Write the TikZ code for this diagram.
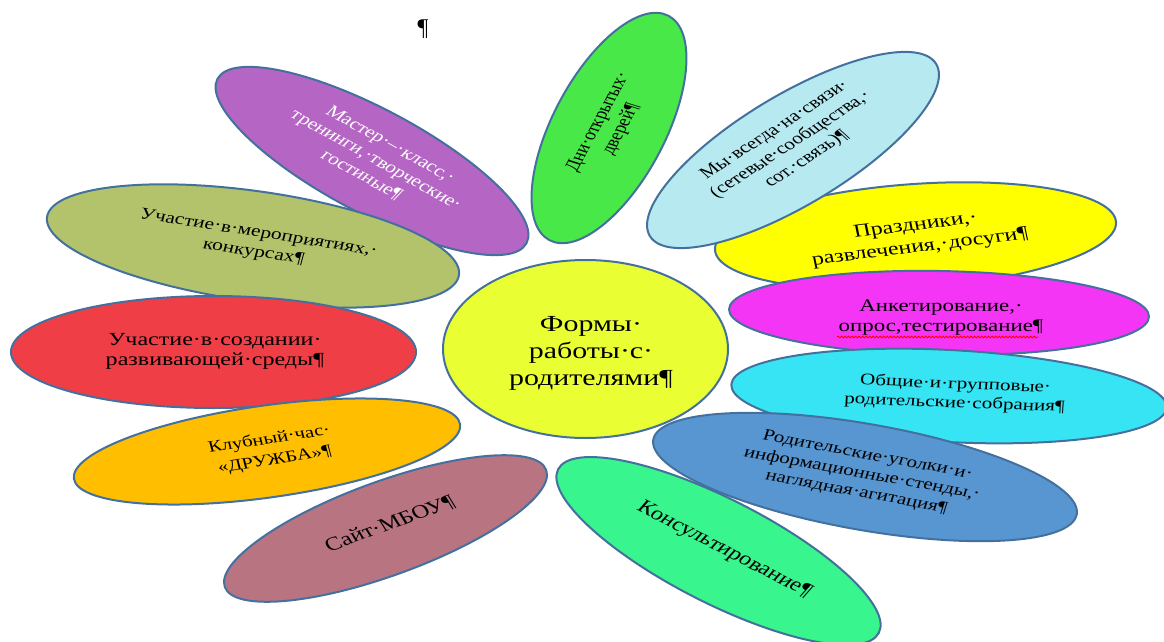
\documentclass[tikz,border=0pt]{standalone}
\usepackage{fontspec}
\setmainfont{Liberation Serif}
\usetikzlibrary{shapes.geometric,decorations.pathmorphing}
\definecolor{outl}{RGB}{68,112,158}
\definecolor{cPurple}{RGB}{181,101,196}
\definecolor{cOlive}{RGB}{178,195,107}
\definecolor{cRed}{RGB}{240,62,70}
\definecolor{cOrange}{RGB}{255,190,0}
\definecolor{cMauve}{RGB}{185,116,130}
\definecolor{cGreen}{RGB}{72,232,72}
\definecolor{cLightBlue}{RGB}{183,233,240}
\definecolor{cYellow}{RGB}{255,255,0}
\definecolor{cMagenta}{RGB}{245,53,245}
\definecolor{cCyan}{RGB}{54,228,244}
\definecolor{cBlue}{RGB}{88,150,210}
\definecolor{cLightGreen}{RGB}{56,245,141}
\definecolor{cCenter}{RGB}{234,255,51}
\newcommand\setfs[2]{\fontsize{#1}{#2}\selectfont}
\tikzset{
  petal/.style={ellipse, draw=outl, line width=2pt, inner sep=0pt, outer sep=0pt},
  txt/.style={align=center, inner sep=0pt, transform shape, text=black},
}
\begin{document}
\begin{tikzpicture}[x=1pt,y=-1pt]
\useasboundingbox (0,0) rectangle (1164,642);
\clip (0,0) rectangle (1164,642);
% petals, left group
\node[petal, fill=cPurple, minimum width=350pt, minimum height=104pt, rotate=-28] (pPurple) at (372,161) {};
\node[petal, fill=cOlive, minimum width=416pt, minimum height=110pt, rotate=-8] (pOlive) at (253,246) {};
\node[petal, fill=cRed, minimum width=405pt, minimum height=112pt] (pRed) at (213.5,352) {};
\node[petal, fill=cOrange, minimum width=390pt, minimum height=92pt, rotate=8] (pOrange) at (267,451.5) {};
\node[petal, fill=cMauve, minimum width=342pt, minimum height=94pt, rotate=20] (pMauve) at (385.5,528.5) {};
% petals, right group
\node[petal, fill=cGreen, minimum width=254pt, minimum height=112pt, rotate=62] (pGreen) at (609,128) {};
\node[petal, fill=cYellow, minimum width=402pt, minimum height=104pt, rotate=4] (pYellow) at (915.5,236) {};
\node[petal, fill=cLightBlue, minimum width=334pt, minimum height=110pt, rotate=31] (pLightBlue) at (793,150) {};
\node[petal, fill=cMagenta, minimum width=420pt, minimum height=84pt, rotate=-1] (pMagenta) at (939,313) {};
\node[petal, fill=cCyan, minimum width=436pt, minimum height=92pt, rotate=-3] (pCyan) at (949,396) {};
\node[petal, fill=cBlue, minimum width=430pt, minimum height=106pt, rotate=-10] (pBlue) at (865,477) {};
\node[petal, fill=cLightGreen, minimum width=360pt, minimum height=104pt, rotate=-27] (pLightGreen) at (718.5,551) {};
% centre
\node[petal, fill=cCenter, minimum width=285pt, minimum height=178pt] (pCenter) at (585.5,349) {};

% texts
\begin{scope}[shift={(376,160)},xscale=1.3,rotate=-36]
\node[txt,text=white,font=\setfs{16.5}{19}] (tPurple) {Мастер·–·класс,·\\тренинги,·творческие·\\гостиные¶};
\end{scope}
\begin{scope}[shift={(256,243)},xscale=1.3,rotate=-11.6]
\node[txt,font=\setfs{16.5}{19.5}] (tOlive) {Участие·в·мероприятиях,·\\конкурсах¶};
\end{scope}
\begin{scope}[shift={(215,351.5)},xscale=1.3]
\node[txt,font=\setfs{18.5}{20.6}] (tRed) {Участие·в·создании·\\развивающей·среды¶};
\end{scope}
\begin{scope}[shift={(272,450)},xscale=1.3,rotate=11.3]
\node[txt,font=\setfs{16}{21}] (tOrange) {Клубный·час·\\«ДРУЖБА»¶};
\end{scope}
\begin{scope}[shift={(390,524)},xscale=1.3,rotate=25.4]
\node[txt,font=\setfs{19}{22}] (tMauve) {Сайт·МБОУ¶};
\end{scope}
\begin{scope}[shift={(610,126)},xscale=1.3,rotate=67.6]
\node[txt,font=\setfs{16}{19}] (tGreen) {Дни·открытых·\\дверей¶};
\end{scope}
\begin{scope}[shift={(791,145)},xscale=1.3,rotate=40.2]
\node[txt,font=\setfs{16.3}{19}] (tLightBlue) {Мы·всегда·на·связи·\\(сетевые·сообщества,·\\сот.·связь)¶};
\end{scope}
\begin{scope}[shift={(918,237)},xscale=1.3,rotate=9.1]
\node[txt,font=\setfs{18.4}{22}] (tYellow) {Праздники,·\\развлечения,·досуги¶};
\end{scope}
\begin{scope}[shift={(941,318)},xscale=1.3]
\node[txt,font=\setfs{17.6}{20}] (tMagenta) {Анкетирование,·\\опрос,тестирование¶};
\end{scope}
\begin{scope}[shift={(955,394)},xscale=1.3,rotate=-2.8]
\node[txt,font=\setfs{16.2}{19}] (tCyan) {Общие·и·групповые·\\родительские·собрания¶};
\end{scope}
\begin{scope}[shift={(862,474)},xscale=1.3,rotate=-13.4]
\node[txt,font=\setfs{16.2}{19}] (tBlue) {Родительские·уголки·и·\\информационные·стенды,·\\наглядная·агитация¶};
\end{scope}
\begin{scope}[shift={(724,550)},xscale=1.3,rotate=-33.9]
\node[txt,font=\setfs{19}{22}] (tLightGreen) {Консультирование¶};
\end{scope}
\begin{scope}[shift={(591,353)},xscale=1.3]
\node[txt,font=\setfs{23}{27}] (tCenter) {Формы·\\работы·с·\\родителями¶};
\end{scope}
% spell-check underline
\draw[red, line width=0.8pt, decorate, decoration={snake, amplitude=0.9pt, segment length=3.5pt}] (837,337) -- (1038,337);
% stray paragraph mark at top
\node[font=\setfs{24}{24}, inner sep=0pt] (topmark) at (423,29) {¶};
\end{tikzpicture}
\end{document}
